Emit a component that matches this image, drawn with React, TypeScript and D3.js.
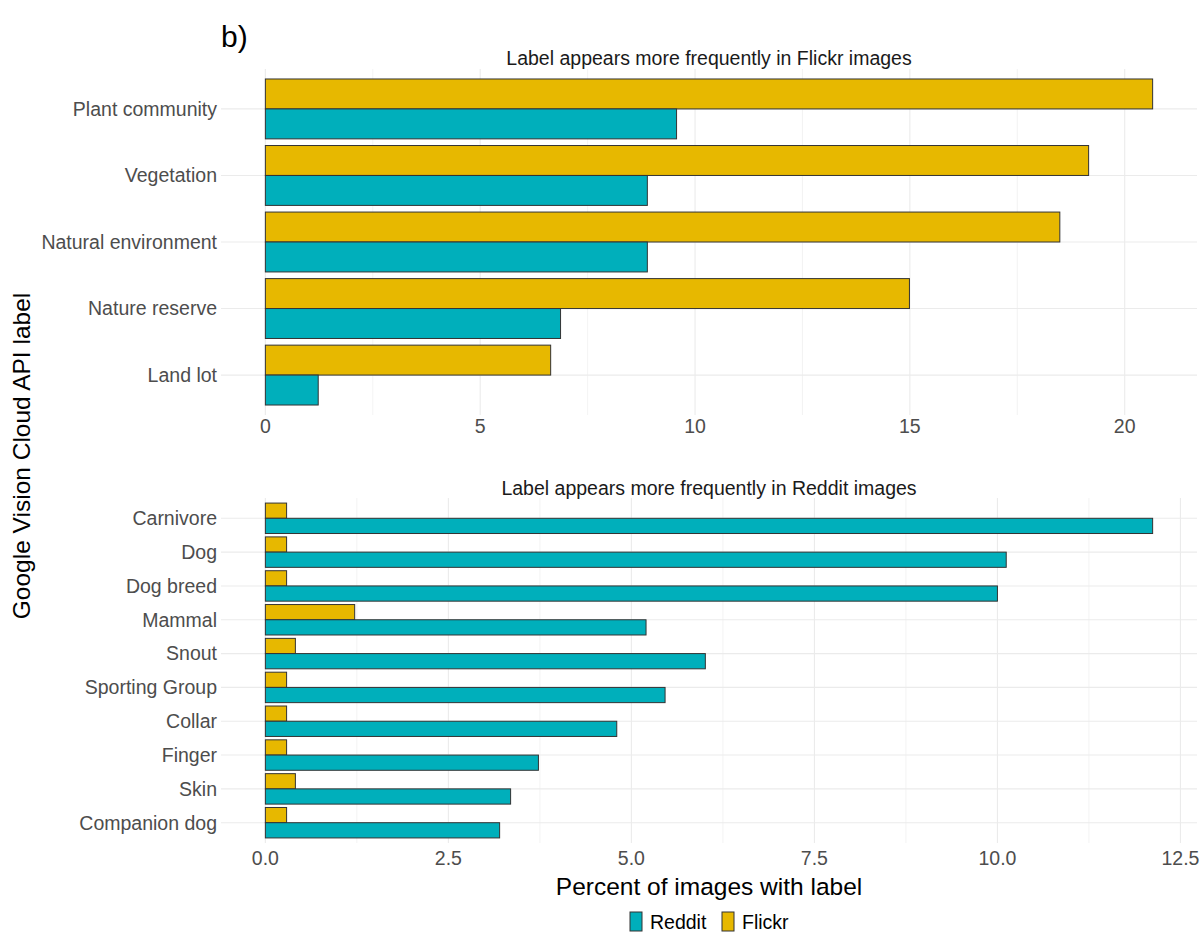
import React from "react";
import * as d3 from "d3";

const topCategories = ["Plant community", "Vegetation", "Natural environment", "Nature reserve", "Land lot"];
const topFlickr = [20.65, 19.16, 18.49, 14.99, 6.64];
const topReddit = [9.57, 8.89, 8.89, 6.87, 1.23];
const topTicks = [0, 5, 10, 15, 20];
const topMinor = [2.5, 7.5, 12.5, 17.5];

const bottomCategories = ["Carnivore", "Dog", "Dog breed", "Mammal", "Snout", "Sporting Group", "Collar", "Finger", "Skin", "Companion dog"];
const bottomFlickr = [0.29, 0.29, 0.29, 1.22, 0.41, 0.29, 0.29, 0.29, 0.41, 0.29];
const bottomReddit = [12.12, 10.12, 10.0, 5.2, 6.01, 5.46, 4.8, 3.73, 3.35, 3.2];
const bottomTicks = [0, 2.5, 5, 7.5, 10, 12.5];
const bottomMinor = [1.25, 3.75, 6.25, 8.75, 11.25];

const seriesNames = ["Reddit", "Flickr"];
const REDDIT = "#00AFBB";
const FLICKR = "#E7B800";
const FONT = "'Liberation Sans', Arial, sans-serif";

type PanelProps = {
  title: string;
  cats: string[];
  flickr: number[];
  reddit: number[];
  ticks: number[];
  minor: number[];
  top: number;
  bottom: number;
  titleY: number;
  tickY: number;
  fmt: (v: number) => string;
};

const PL = 221;
const PR = 1197;

function Panel(p: PanelProps) {
  const max = d3.max([...p.flickr, ...p.reddit]) as number;
  const x = d3.scaleLinear().domain([-0.05 * max, 1.05 * max]).range([PL, PR]);
  const y = d3.scalePoint<string>().domain(p.cats).range([p.top, p.bottom]).padding(0.6);
  const step = y.step();
  const bw = step * 0.45;
  return (
    <g>
      <text x={(PL + PR) / 2} y={p.titleY} dy="0.35em" textAnchor="middle" fontSize={19.5} fill="#1a1a1a" fontFamily={FONT}>
        {p.title}
      </text>
      {p.minor.map((v) => (
        <line key={"mn" + v} x1={x(v)} x2={x(v)} y1={p.top} y2={p.bottom} stroke="#F0F0F0" strokeWidth={0.8} />
      ))}
      {p.ticks.map((v) => (
        <line key={"mj" + v} x1={x(v)} x2={x(v)} y1={p.top} y2={p.bottom} stroke="#EBEBEB" strokeWidth={1.1} />
      ))}
      {p.cats.map((c) => (
        <line key={"h" + c} x1={PL} x2={PR} y1={y(c)} y2={y(c)} stroke="#EBEBEB" strokeWidth={1.1} />
      ))}
      {p.cats.map((c, i) => {
        const cy = y(c) as number;
        return (
          <g key={"b" + c}>
            <rect x={x(0)} y={cy - bw} width={x(p.flickr[i]) - x(0)} height={bw} fill={FLICKR} stroke="#333" strokeWidth={1} />
            <rect x={x(0)} y={cy} width={x(p.reddit[i]) - x(0)} height={bw} fill={REDDIT} stroke="#333" strokeWidth={1} />
          </g>
        );
      })}
      {p.cats.map((c) => (
        <text key={"l" + c} x={PL - 4} y={y(c)} dy="0.35em" textAnchor="end" fontSize={19.5} fill="#4D4D4D" fontFamily={FONT}>
          {c}
        </text>
      ))}
      {p.ticks.map((v) => (
        <text key={"t" + v} x={x(v)} y={p.tickY} dy="0.35em" textAnchor="middle" fontSize={19.5} fill="#4D4D4D" fontFamily={FONT}>
          {p.fmt(v)}
        </text>
      ))}
    </g>
  );
}

export default function App() {
  const legendColors = [REDDIT, FLICKR];
  const legendX = [630, 722];
  return (
    <svg width={1200} height={934} style={{ position: "absolute", left: 0, top: 0, background: "#fff" }}>
      <rect x={0} y={0} width={1200} height={934} fill="#fff" />
      <text x={221} y={36} dy="0.35em" fontSize={30} fill="#000" fontFamily={FONT}>b)</text>
      <Panel
        title="Label appears more frequently in Flickr images"
        cats={topCategories}
        flickr={topFlickr}
        reddit={topReddit}
        ticks={topTicks}
        minor={topMinor}
        top={69}
        bottom={415}
        titleY={58}
        tickY={426}
        fmt={(v) => d3.format("d")(v)}
      />
      <Panel
        title="Label appears more frequently in Reddit images"
        cats={bottomCategories}
        flickr={bottomFlickr}
        reddit={bottomReddit}
        ticks={bottomTicks}
        minor={bottomMinor}
        top={498}
        bottom={843}
        titleY={488}
        tickY={858}
        fmt={(v) => d3.format(".1f")(v)}
      />
      <text x={709} y={886} dy="0.35em" textAnchor="middle" fontSize={24.5} fill="#000" fontFamily={FONT}>
        Percent of images with label
      </text>
      <text transform="translate(21,456) rotate(-90)" dy="0.35em" textAnchor="middle" fontSize={24.5} fill="#000" fontFamily={FONT}>
        Google Vision Cloud API label
      </text>
      {seriesNames.map((s, i) => (
        <g key={s}>
          <rect x={legendX[i]} y={912} width={12} height={19} fill={legendColors[i]} stroke="#333" strokeWidth={1} />
          <text x={legendX[i] + 20} y={922} dy="0.35em" fontSize={19.5} fill="#000" fontFamily={FONT}>
            {s}
          </text>
        </g>
      ))}
    </svg>
  );
}
